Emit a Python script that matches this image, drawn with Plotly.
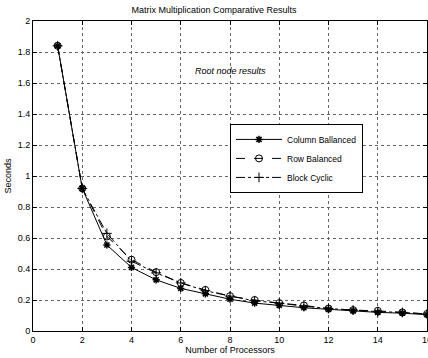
import plotly.graph_objects as go

processors = list(range(1, 17))
column_ballanced = [1.84, 0.92, 0.555, 0.41, 0.33, 0.275, 0.24, 0.205, 0.18, 0.165, 0.15, 0.14, 0.13, 0.12, 0.115, 0.105]
row_balanced = [1.84, 0.92, 0.61, 0.46, 0.38, 0.31, 0.265, 0.225, 0.20, 0.18, 0.165, 0.145, 0.135, 0.13, 0.12, 0.11]
block_cyclic = [1.84, 0.92, 0.63, 0.45, 0.375, 0.31, 0.26, 0.225, 0.195, 0.18, 0.16, 0.145, 0.135, 0.125, 0.12, 0.11]
x_ticks = list(range(0, 17, 2))
y_ticks = [round(0.2 * i, 1) for i in range(11)]
y_tick_labels = ["0", "0.2", "0.4", "0.6", "0.8", "1", "1.2", "1.4", "1.6", "1.8", "2"]

FONT = "Liberation Sans, Arial, sans-serif"

fig = go.Figure()
fig.add_trace(go.Scatter(
    x=processors, y=column_ballanced, name="Column Ballanced", mode="lines+markers",
    line=dict(color="black", width=1, dash="solid"),
    marker=dict(symbol="asterisk-open", size=6, color="black", line=dict(color="black", width=1.5)),
))
fig.add_trace(go.Scatter(
    x=processors, y=row_balanced, name="Row Balanced", mode="lines+markers",
    line=dict(color="black", width=1, dash="dash"),
    marker=dict(symbol="circle-open", size=7, color="black", line=dict(color="black", width=1)),
))
fig.add_trace(go.Scatter(
    x=processors, y=block_cyclic, name="Block Cyclic", mode="lines+markers",
    line=dict(color="black", width=1, dash="dashdot"),
    marker=dict(symbol="cross-thin-open", size=7, color="black", line=dict(color="black", width=1)),
))

axis_common = dict(
    showline=True, linecolor="black", linewidth=1, mirror="allticks",
    ticks="inside", ticklen=4, tickcolor="black", automargin=False,
    showgrid=True, gridcolor="#666", griddash="dot", gridwidth=1,
    zeroline=False, tickfont=dict(family=FONT, size=9, color="black"),
)

fig.update_layout(
    width=428, height=358,
    margin=dict(l=33, r=1, t=21, b=27, autoexpand=False),
    paper_bgcolor="white", plot_bgcolor="white",
    font=dict(family=FONT, size=9, color="black"),
    title=dict(text="Matrix Multiplication Comparative Results", x=0.5, xanchor="center",
               y=0.972, yanchor="middle", font=dict(family=FONT, size=9, color="black")),
    xaxis=dict(range=[0, 16], tickvals=x_ticks, ticklabeloverflow="allow",
               title=dict(text="Number of Processors", standoff=2, font=dict(family=FONT, size=9)),
               **axis_common),
    yaxis=dict(range=[0, 2], tickvals=y_ticks, ticktext=y_tick_labels,
               title=dict(text="Seconds", standoff=4, font=dict(family=FONT, size=9)), **axis_common),
    legend=dict(x=0.5, y=0.668, xanchor="left", yanchor="top", bgcolor="white",
                bordercolor="black", borderwidth=1, font=dict(family=FONT, size=8.5),
                itemwidth=46, tracegroupgap=0),
    showlegend=True,
    annotations=[dict(text="<i>Root node results</i>", x=8.0, y=1.68, xref="x", yref="y",
                      showarrow=False, font=dict(family=FONT, size=9, color="black"))],
)

fig.write_html("out.html")
